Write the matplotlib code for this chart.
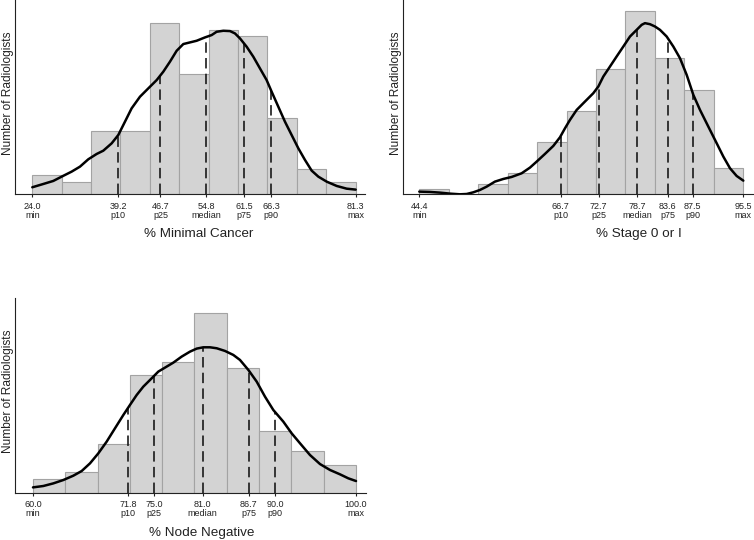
import numpy as np
import matplotlib
matplotlib.use("Agg")
import matplotlib.pyplot as plt
from matplotlib.transforms import blended_transform_factory

plt.rcParams['font.family'] = ['Liberation Sans', 'DejaVu Sans']
plt.rcParams['lines.scale_dashes'] = False

# ---------------- data ----------------
# Panel 1: % Minimal Cancer
mc_counts = [3, 2, 10, 10, 27, 19, 26, 25, 12, 4, 2]
mc_pct_vals = [24.0, 39.2, 46.7, 54.8, 61.5, 66.3, 81.3]
mc_pct_names = ["min", "p10", "p25", "median", "p75", "p90", "max"]
mc_kde_x = [24.00, 25.95, 27.72, 29.20, 30.97, 32.45, 33.92, 35.40, 36.58, 38.06,
            39.24, 40.42, 41.60, 43.08, 44.56, 46.04, 47.21, 48.39, 49.58, 50.76,
            51.94, 53.12, 54.60, 55.78, 56.66, 57.85, 59.03, 59.91, 60.80, 61.98,
            63.16, 64.34, 65.52, 66.41, 67.59, 68.77, 69.95, 71.14, 72.32, 73.50,
            74.68, 76.16, 77.93, 79.70, 81.30]
mc_kde_y = [1.11, 1.63, 2.11, 2.79, 3.58, 4.37, 5.53, 6.37, 6.89, 8.05,
            9.37, 11.47, 13.58, 15.42, 16.74, 18.05, 19.37, 20.95, 22.68, 23.74,
            24.00, 24.26, 24.79, 25.16, 25.68, 25.84, 25.79, 25.42, 24.63, 23.32,
            21.74, 19.89, 18.05, 16.21, 13.84, 11.47, 9.37, 7.26, 5.42, 3.74,
            2.79, 2.00, 1.32, 0.89, 0.74]

# Panel 2: % Stage 0 or I
st_counts = [1, 0, 2, 4, 10, 16, 24, 35, 26, 20, 5]
st_pct_vals = [44.4, 66.7, 72.7, 78.7, 83.6, 87.5, 95.5]
st_pct_names = ["min", "p10", "p25", "median", "p75", "p90", "max"]
st_kde_x = [44.40, 46.08, 47.66, 49.24, 50.81, 51.87, 52.92, 53.97, 55.02, 56.33,
            57.65, 58.96, 60.54, 61.86, 62.91, 64.22, 65.54, 66.59, 67.38, 68.16,
            69.22, 70.53, 71.84, 72.63, 73.42, 74.47, 75.52, 76.58, 77.63, 78.68,
            79.47, 79.99, 80.78, 81.57, 82.36, 83.41, 84.46, 85.51, 86.57, 87.62,
            88.67, 89.98, 91.30, 92.35, 93.40, 94.45, 95.50]
st_kde_y = [0.51, 0.45, 0.32, 0.13, 0.00, 0.06, 0.38, 0.83, 1.46, 2.42,
            2.93, 3.31, 4.01, 5.10, 6.24, 7.71, 9.24, 10.89, 12.61, 14.20,
            16.11, 17.71, 19.30, 20.57, 22.48, 24.39, 26.31, 28.22, 30.13, 31.40,
            32.36, 32.68, 32.48, 32.04, 31.40, 30.13, 28.22, 25.99, 22.80, 18.98,
            16.11, 12.93, 9.75, 7.20, 4.97, 3.50, 2.61]

# Panel 3: % Node Negative
nn_counts = [2, 3, 7, 17, 19, 26, 18, 9, 6, 4]
nn_pct_vals = [60.0, 71.8, 75.0, 81.0, 86.7, 90.0, 100.0]
nn_pct_names = ["min", "p10", "p25", "median", "p75", "p90", "max"]
nn_kde_x = [60.00, 61.28, 62.52, 63.76, 64.99, 66.03, 67.06, 68.09, 69.12, 70.15,
            71.19, 72.01, 72.84, 73.66, 74.70, 75.52, 76.55, 77.38, 78.41, 79.44,
            80.27, 81.09, 81.92, 82.75, 83.78, 84.81, 85.63, 86.67, 87.70, 88.73,
            89.76, 91.00, 92.03, 93.07, 94.30, 95.54, 96.78, 98.02, 99.05, 100.00]
nn_kde_y = [0.77, 0.97, 1.35, 1.84, 2.46, 3.14, 4.25, 5.70, 7.39, 9.32,
            11.26, 12.71, 14.15, 15.36, 16.57, 17.54, 18.26, 18.84, 19.71, 20.43,
            20.87, 21.06, 21.06, 20.92, 20.53, 19.95, 19.23, 17.78, 16.09, 13.91,
            11.98, 10.29, 8.60, 7.15, 5.46, 4.15, 3.29, 2.66, 2.08, 1.69]

xlabels = ["% Minimal Cancer", "% Stage 0 or I", "% Node Negative"]
ylabel = "Number of Radiologists"

# ---------------- figure ----------------
W, H = 754, 540
fig = plt.figure(figsize=(W / 100, H / 100), dpi=100)


def px_axes(l, t, r, b):
    return fig.add_axes([l / W, 1 - b / H, (r - l) / W, (b - t) / H])


panels = [
    dict(rect=(15.3, 0.0, 365.0, 194.3), counts=mc_counts, pv=mc_pct_vals, pn=mc_pct_names,
         kx=mc_kde_x, ky=mc_kde_y, xlim=(20.99, 82.95), ylim=(0, 30.7), xl=xlabels[0], xlc=53.4),
    dict(rect=(403.3, 0.0, 752.7, 194.3), counts=st_counts, pv=st_pct_vals, pn=st_pct_names,
         kx=st_kde_x, ky=st_kde_y, xlim=(41.88, 96.98), ylim=(0, 37.1), xl=xlabels[1], xlc=79.1),
    dict(rect=(15.3, 298.0, 365.7, 492.7), counts=nn_counts, pv=nn_pct_vals, pn=nn_pct_names,
         kx=nn_kde_x, ky=nn_kde_y, xlim=(57.81, 101.2), ylim=(0, 28.2), xl=xlabels[2], xlc=80.9),
]

for p in panels:
    ax = px_axes(*p['rect'])
    counts = np.array(p['counts'])
    lo, hi = p['pv'][0], p['pv'][-1]
    edges = np.linspace(lo, hi, len(counts) + 1)
    ax.bar(edges[:-1], counts, width=np.diff(edges), align='edge',
           color='#d3d3d3', edgecolor='#a3a3a3', linewidth=0.8, zorder=1)
    kx = np.array(p['kx']); ky = np.array(p['ky'])
    inner = p['pv'][1:-1]
    tops = np.interp(inner, kx, ky)
    ax.vlines(inner, 0, tops, colors='#1a1a1a', linewidth=1.2,
              linestyles=[(0, (7.5, 3.8))], zorder=2)
    ax.plot(kx, ky, color='black', linewidth=1.8, zorder=3, solid_capstyle='round')
    ax.set_xlim(*p['xlim'])
    ax.set_ylim(*p['ylim'])
    for s in ('top', 'right'):
        ax.spines[s].set_visible(False)
    for s in ('left', 'bottom'):
        ax.spines[s].set_linewidth(0.8)
        ax.spines[s].set_color('#222222')
    ax.set_xticks(p['pv'])
    ax.set_xticklabels([f"{v:.1f}\n{n}" for v, n in zip(p['pv'], p['pn'])],
                       fontsize=6.5, linespacing=1.0, color='#222222')
    ax.tick_params(axis='x', length=2.3, width=0.8, pad=3.0, color='#222222')
    ax.tick_params(axis='y', left=False, labelleft=False)
    ax.set_ylabel(ylabel, fontsize=8.6, color='#222222')
    ax.yaxis.set_label_coords(-0.022, 0.52)
    ax.yaxis.label.set_va('center')
    ax.set_xlabel(p['xl'], fontsize=9.7, color='#222222')
    trans = blended_transform_factory(ax.transData, ax.transAxes)
    ax.xaxis.set_label_coords(p['xlc'], -40.0 / 194.5, transform=trans)
    ax.xaxis.label.set_va('center')
    ax.patch.set_alpha(0)

fig.savefig("out.png", dpi=100, facecolor='white')
